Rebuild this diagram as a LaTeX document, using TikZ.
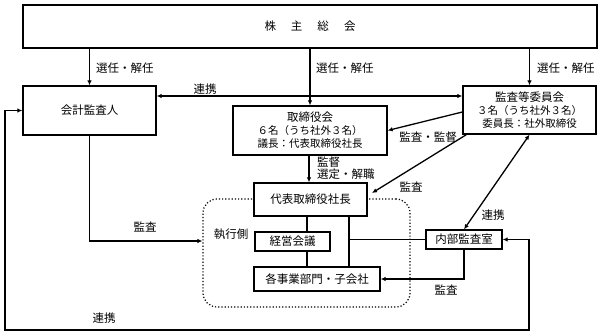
\documentclass[tikz,border=0pt]{standalone}
\usepackage{fontspec}
\setmainfont{Noto Sans CJK JP}
\usetikzlibrary{arrows.meta}
\newcommand{\smallline}{\fontsize{10.5}{13}\selectfont}
\begin{document}
\begin{tikzpicture}[x=1pt,y=-1pt,
  box/.style={draw, line width=1.3pt, fill=white, inner sep=0pt, align=center,
              font=\fontsize{11.5}{13}\selectfont},
  lbl/.style={inner sep=0pt, font=\fontsize{11.5}{13}\selectfont},
  ln/.style={line width=1.3pt},
  arr/.style={ln, -{Latex[length=5pt,width=4.5pt]}},
  darr/.style={ln, {Latex[length=5pt,width=4.5pt]}-{Latex[length=5pt,width=4.5pt]}},
  execbox/.style={draw, line width=1.2pt, dotted, rounded corners=14pt}]
\useasboundingbox (0,0) rectangle (600,335);
% executive side (dotted)
\node[execbox, minimum width=207pt, minimum height=108pt] (exec) at (306.5,253) {};
% boxes
\node[box, minimum width=574pt, minimum height=43pt] (kabu) at (310,26.5)
  {株\hspace{15pt}主\hspace{15pt}総\hspace{15pt}会};
\node[box, minimum width=133pt, minimum height=49pt] (kaikei) at (89.5,110.5) {会計監査人};
\node[box, minimum width=154pt, minimum height=49pt] (tori) at (310,130.5)
  {取締役会\\{\smallline ６名（うち社外３名）}\\{\smallline 議長：代表取締役社長}};
\node[box, minimum width=133pt, minimum height=48pt] (kansa) at (529.5,110)
  {監査等委員会\\{\smallline ３名（うち社外３名）}\\{\smallline 委員長：社外取締役}};
\node[box, minimum width=113pt, minimum height=33pt] (daihyo) at (310.5,199.5) {代表取締役社長};
\node[box, minimum width=75pt, minimum height=19pt] (keiei) at (292.5,241.5) {経営会議};
\node[box, minimum width=126pt, minimum height=24pt] (jigyo) at (317,279) {各事業部門・子会社};
\node[box, minimum width=76pt, minimum height=19pt] (naibu) at (464,239.5) {内部監査室};
% named points
\coordinate (r1) at (0,96);
\coordinate (vx) at (349,0);
\coordinate (vy) at (307,0);
\coordinate (a1) at (0,241);
\coordinate (loopL) at (5,330);
\coordinate (loopR) at (529,330);
\coordinate (tip1) at (372,193);
% from shareholders
\draw[arr] (kaikei.north |- kabu.south) -- (kaikei.north);
\draw[arr] (tori.north |- kabu.south) -- (tori.north);
\draw[arr] (kansa.north |- kabu.south) -- (kansa.north);
\node[lbl, anchor=west] (s1) at (96,68) {選任・解任};
\node[lbl, anchor=west] (s2) at (316,68) {選任・解任};
\node[lbl, anchor=west] (s3) at (537,68) {選任・解任};
% renkei top
\draw[darr] (kaikei.east |- r1) -- (kansa.west |- r1);
\node[lbl] (t1) at (205,89) {連携};
% board -> president
\draw[arr] (tori.south -| 309,0) -- (daihyo.north -| 309,0);
\node[lbl, anchor=west] (t2) at (317,162) {監督};
\node[lbl, anchor=west] (t3) at (317,174.5) {選定・解職};
% audit committee arrows
\draw[arr] ([yshift=-2pt]kansa.west) -- (tori.east);
\node[lbl] (t4) at (428,137) {監査・監督};
\draw[arr] ([xshift=4pt]kansa.south west) -- (tip1);
\node[lbl] (t5) at (411,187) {監査};
\draw[darr] (kansa.south) -- (naibu.north);
\node[lbl] (t6) at (493,215) {連携};
% inside exec
\draw[ln] (daihyo.south -| vy) -- (keiei.north -| vy);
\draw[ln] (keiei.south -| vy) -- (jigyo.north -| vy);
\draw[ln] (daihyo.south -| vx) -- (jigyo.north -| vx);
\draw[ln] (naibu.west -| vx) -- (naibu.west);
\node[lbl] (t7) at (231,234) {執行側};
% internal audit -> divisions
\draw[arr] (naibu.south) |- (jigyo.east);
\node[lbl] (t8) at (446,290) {監査};
% accounting auditor -> exec
\draw[arr] (kaikei.south) |- (exec.west |- a1);
\node[lbl] (t9) at (145,227) {監査};
% bottom loop
\draw[darr] (kaikei.west) -| (loopL) -- (loopR) |- (naibu.east);
\node[lbl] (t10) at (104,318) {連携};
\end{tikzpicture}
\end{document}
